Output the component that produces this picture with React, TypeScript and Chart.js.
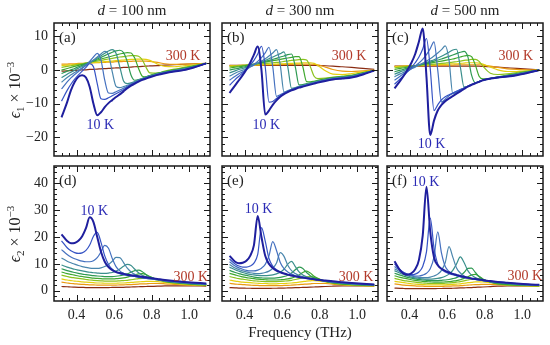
import React, { useEffect, useRef } from 'react';
import { Chart, registerables } from 'chart.js';

Chart.register(...registerables);

// ---------- data ----------
const FREQ = [
  0.32, 0.35, 0.37, 0.39, 0.41, 0.43, 0.45, 0.47, 0.49, 0.51,
  0.53, 0.55, 0.57, 0.59, 0.61, 0.63, 0.65, 0.67, 0.69, 0.71,
  0.73, 0.75, 0.77, 0.79, 0.83, 0.87, 0.92, 0.97, 1.03, 1.09,
];

const TEMPS = [10, 30, 50, 70, 90, 110, 140, 170, 200, 250, 300];
const COLORS = ['#1f1f9e', '#3553c4', '#4470bf', '#4a86ad', '#3a8f8c', '#2f9a52', '#3fa82e', '#8cc21e', '#e4cf10', '#eb9a12', '#8a2c12'];

const EPS1_100 = [
  [-14.0, -9.5, -6.0, -3.5, -2.0, -1.5, -2.2, -5.0, -10.0, -13.4, -12.5, -11.0, -9.8, -8.9, -8.0, -7.2, -6.3, -5.4, -4.6, -4.0, -3.4, -2.9, -2.5, -2.1, -1.4, -0.9, -0.4, 0.0, 0.9, 2.0],
  [-9.2, -6.0, -4.2, -2.7, -1.4, -0.3, 0.8, 1.9, 1.0, -4.0, -8.5, -8.7, -8.2, -7.6, -7.0, -6.4, -5.8, -5.1, -4.4, -3.8, -3.3, -2.8, -2.4, -2.0, -1.4, -0.8, -0.3, 0.1, 0.9, 2.0],
  [-5.6, -3.5, -2.3, -1.3, -0.4, 0.5, 1.5, 2.6, 3.9, 5.0, 3.0, -3.0, -6.8, -6.9, -6.4, -5.9, -5.4, -4.8, -4.2, -3.7, -3.2, -2.7, -2.3, -1.9, -1.3, -0.8, -0.3, 0.2, 1.0, 2.0],
  [-3.6, -2.2, -1.4, -0.7, 0.0, 0.7, 1.4, 2.2, 3.0, 3.9, 4.8, 5.6, 4.5, -0.5, -4.8, -5.2, -4.9, -4.5, -4.0, -3.5, -3.0, -2.6, -2.2, -1.8, -1.2, -0.7, -0.2, 0.3, 1.0, 2.0],
  [-2.2, -1.2, -0.6, 0.0, 0.6, 1.1, 1.7, 2.3, 2.9, 3.6, 4.3, 5.0, 5.7, 6.1, 5.0, 1.0, -3.2, -4.0, -3.8, -3.4, -2.9, -2.5, -2.1, -1.7, -1.1, -0.6, -0.1, 0.4, 1.1, 2.0],
  [-1.0, -0.3, 0.1, 0.5, 1.0, 1.4, 1.9, 2.3, 2.8, 3.3, 3.8, 4.3, 4.8, 5.3, 5.7, 5.9, 5.2, 2.5, -1.5, -3.0, -2.8, -2.4, -2.0, -1.6, -1.0, -0.5, 0.0, 0.5, 1.2, 2.0],
  [0.0, 0.5, 0.8, 1.1, 1.4, 1.7, 2.0, 2.4, 2.7, 3.0, 3.3, 3.6, 3.9, 4.2, 4.5, 4.8, 5.0, 5.2, 5.1, 3.5, 0.5, -1.8, -2.0, -1.6, -0.9, -0.4, 0.1, 0.6, 1.3, 2.0],
  [0.8, 1.1, 1.3, 1.5, 1.7, 1.9, 2.1, 2.3, 2.5, 2.7, 2.9, 3.1, 3.3, 3.5, 3.7, 3.9, 4.0, 4.2, 4.3, 4.3, 4.1, 3.0, 0.8, -0.8, -0.9, -0.3, 0.3, 0.8, 1.4, 2.0],
  [1.4, 1.5, 1.6, 1.7, 1.8, 1.9, 2.0, 2.1, 2.2, 2.3, 2.4, 2.5, 2.6, 2.7, 2.8, 2.9, 3.0, 3.1, 3.2, 3.2, 3.3, 3.3, 3.2, 2.9, 1.8, 1.1, 1.0, 1.3, 1.6, 2.0],
  [1.8, 1.8, 1.9, 1.9, 2.0, 2.0, 2.1, 2.1, 2.2, 2.2, 2.3, 2.3, 2.4, 2.4, 2.5, 2.5, 2.6, 2.6, 2.6, 2.7, 2.7, 2.7, 2.7, 2.6, 2.3, 1.9, 1.7, 1.8, 1.9, 2.0],
  [-0.3, -0.2, -0.15, -0.1, 0.0, 0.05, 0.1, 0.2, 0.25, 0.3, 0.4, 0.45, 0.5, 0.6, 0.65, 0.7, 0.8, 0.85, 0.9, 1.0, 1.05, 1.1, 1.2, 1.25, 1.35, 1.5, 1.6, 1.75, 1.9, 2.0],
];

const EPS1_300 = [
  [-6.8, -4.5, -3.0, -1.5, 0.2, 2.2, 4.6, 7.0, 0.0, -13.2, -12.0, -10.3, -9.0, -7.9, -7.1, -6.5, -6.0, -5.6, -5.2, -4.9, -4.6, -4.3, -4.0, -3.7, -3.2, -2.8, -2.5, -2.2, -1.3, -0.1],
  [-4.5, -2.8, -1.8, -0.8, 0.3, 1.5, 2.9, 4.8, 7.1, 1.0, -9.5, -9.3, -8.4, -7.6, -6.9, -6.4, -5.9, -5.5, -5.1, -4.8, -4.5, -4.2, -3.9, -3.6, -3.1, -2.7, -2.4, -2.1, -1.2, -0.1],
  [-3.0, -1.8, -1.1, -0.5, 0.2, 0.9, 1.7, 2.6, 3.7, 5.1, 6.8, 1.0, -7.8, -7.3, -6.7, -6.2, -5.8, -5.4, -5.0, -4.7, -4.4, -4.1, -3.8, -3.5, -3.0, -2.6, -2.3, -2.0, -1.1, -0.1],
  [-1.8, -0.9, -0.4, 0.0, 0.5, 1.0, 1.5, 2.1, 2.7, 3.4, 4.2, 5.1, 6.1, 1.5, -6.5, -6.1, -5.7, -5.3, -4.9, -4.6, -4.3, -4.0, -3.7, -3.4, -2.9, -2.5, -2.2, -1.9, -1.0, -0.1],
  [-0.8, -0.2, 0.2, 0.5, 0.9, 1.3, 1.7, 2.1, 2.5, 2.9, 3.4, 3.9, 4.4, 4.9, 5.4, 1.0, -5.4, -5.2, -4.8, -4.5, -4.2, -3.9, -3.6, -3.3, -2.8, -2.4, -2.1, -1.8, -1.0, -0.1],
  [0.0, 0.4, 0.6, 0.9, 1.1, 1.4, 1.7, 2.0, 2.3, 2.6, 2.9, 3.2, 3.5, 3.9, 4.2, 4.6, 4.8, 1.0, -4.4, -4.3, -4.0, -3.8, -3.5, -3.2, -2.7, -2.3, -2.0, -1.7, -0.9, -0.1],
  [0.6, 0.9, 1.0, 1.2, 1.4, 1.6, 1.8, 2.0, 2.2, 2.4, 2.6, 2.8, 3.0, 3.2, 3.4, 3.6, 3.8, 4.0, 4.0, 1.0, -3.4, -3.5, -3.3, -3.0, -2.6, -2.2, -1.9, -1.6, -0.8, -0.1],
  [1.0, 1.2, 1.3, 1.4, 1.5, 1.6, 1.7, 1.8, 1.9, 2.0, 2.1, 2.2, 2.3, 2.4, 2.6, 2.7, 2.9, 3.0, 3.1, 3.2, 3.0, 1.0, -1.8, -2.5, -2.4, -2.1, -1.8, -1.5, -0.7, -0.1],
  [1.2, 1.3, 1.3, 1.4, 1.4, 1.5, 1.5, 1.6, 1.6, 1.7, 1.7, 1.8, 1.8, 1.9, 1.9, 2.0, 2.0, 2.1, 2.1, 2.2, 2.2, 2.2, 2.0, 1.4, -0.2, -1.2, -1.3, -1.0, -0.5, 0.0],
  [1.3, 1.3, 1.4, 1.4, 1.4, 1.5, 1.5, 1.5, 1.5, 1.6, 1.6, 1.6, 1.6, 1.7, 1.7, 1.7, 1.7, 1.8, 1.8, 1.8, 1.8, 1.8, 1.7, 1.6, 0.9, 0.2, -0.3, -0.4, -0.2, 0.0],
  [1.4, 1.4, 1.4, 1.4, 1.4, 1.4, 1.4, 1.4, 1.4, 1.4, 1.4, 1.4, 1.4, 1.4, 1.4, 1.4, 1.4, 1.4, 1.4, 1.4, 1.4, 1.4, 1.4, 1.35, 1.3, 1.2, 1.0, 0.8, 0.5, 0.2],
];

const EPS1_500 = [
  [-5.4, -3.2, -1.6, 0.2, 2.2, 4.8, 8.5, 12.4, -2.0, -19.3, -15.0, -12.0, -10.3, -9.2, -8.4, -7.7, -7.0, -6.3, -5.6, -4.9, -4.4, -3.9, -3.5, -3.0, -2.5, -2.2, -1.9, -1.5, -0.8, 0.0],
  [-4.2, -2.6, -1.5, -0.4, 0.8, 2.2, 3.9, 6.3, 9.4, 0.5, -12.0, -10.3, -8.8, -7.9, -7.3, -6.8, -6.3, -5.8, -5.3, -4.8, -4.3, -3.8, -3.4, -3.0, -2.5, -2.2, -1.9, -1.5, -0.8, 0.0],
  [-3.0, -1.8, -1.0, -0.3, 0.4, 1.2, 2.1, 3.2, 4.6, 6.4, 8.4, 0.0, -9.5, -8.6, -7.6, -6.9, -6.3, -5.8, -5.3, -4.8, -4.3, -3.8, -3.4, -3.0, -2.5, -2.2, -1.8, -1.4, -0.7, 0.0],
  [-2.0, -1.1, -0.6, -0.1, 0.4, 0.9, 1.5, 2.1, 2.7, 3.4, 4.2, 5.1, 6.1, 7.2, 3.0, -7.0, -6.6, -5.9, -5.3, -4.8, -4.3, -3.8, -3.4, -3.0, -2.5, -2.1, -1.7, -1.3, -0.6, 0.0],
  [-1.2, -0.5, -0.1, 0.3, 0.7, 1.1, 1.5, 1.9, 2.3, 2.7, 3.1, 3.6, 4.1, 4.7, 5.3, 6.0, 6.2, 1.0, -5.0, -4.8, -4.3, -3.8, -3.4, -3.0, -2.5, -2.1, -1.7, -1.2, -0.6, 0.0],
  [-0.5, 0.0, 0.3, 0.6, 0.9, 1.2, 1.5, 1.8, 2.1, 2.4, 2.7, 3.0, 3.3, 3.7, 4.1, 4.5, 4.9, 5.3, 5.6, 4.0, -1.5, -3.8, -3.4, -3.0, -2.5, -2.1, -1.6, -1.1, -0.5, 0.0],
  [0.2, 0.5, 0.7, 0.9, 1.1, 1.3, 1.5, 1.7, 1.9, 2.1, 2.3, 2.5, 2.7, 2.9, 3.1, 3.3, 3.6, 3.9, 4.2, 4.4, 4.0, 1.5, -1.8, -2.6, -2.4, -2.0, -1.5, -1.0, -0.4, 0.0],
  [0.7, 0.9, 1.0, 1.1, 1.2, 1.3, 1.4, 1.5, 1.6, 1.7, 1.8, 1.9, 2.0, 2.1, 2.2, 2.4, 2.5, 2.7, 2.9, 3.0, 3.2, 3.2, 2.6, 1.2, -0.9, -1.3, -1.1, -0.7, -0.3, 0.0],
  [1.0, 1.1, 1.2, 1.2, 1.3, 1.3, 1.4, 1.4, 1.5, 1.5, 1.6, 1.6, 1.7, 1.7, 1.8, 1.9, 1.9, 2.0, 2.1, 2.2, 2.2, 2.2, 2.1, 1.8, 0.9, 0.1, -0.4, -0.4, -0.2, 0.0],
  [1.1, 1.1, 1.2, 1.2, 1.2, 1.3, 1.3, 1.3, 1.4, 1.4, 1.4, 1.4, 1.5, 1.5, 1.5, 1.5, 1.6, 1.6, 1.6, 1.6, 1.6, 1.6, 1.6, 1.5, 1.2, 0.8, 0.4, 0.2, 0.1, 0.0],
  [1.2, 1.2, 1.2, 1.2, 1.2, 1.2, 1.2, 1.2, 1.2, 1.2, 1.2, 1.2, 1.2, 1.2, 1.2, 1.2, 1.2, 1.2, 1.2, 1.2, 1.2, 1.2, 1.2, 1.1, 1.0, 0.9, 0.7, 0.5, 0.3, 0.1],
];

const EPS2_100 = [
  [21.0, 18.5, 17.7, 17.8, 18.6, 20.3, 23.3, 27.3, 25.5, 20.0, 14.5, 10.8, 8.8, 7.7, 7.0, 6.6, 6.3, 6.0, 5.8, 5.6, 5.4, 5.2, 5.0, 4.8, 4.4, 4.0, 3.6, 3.3, 3.0, 2.7],
  [18.6, 16.0, 14.9, 14.2, 13.9, 14.1, 15.0, 17.0, 20.3, 21.7, 18.0, 13.0, 9.8, 8.0, 7.0, 6.4, 6.0, 5.7, 5.5, 5.3, 5.1, 4.9, 4.7, 4.6, 4.3, 3.9, 3.5, 3.2, 2.9, 2.6],
  [15.3, 13.5, 12.6, 11.9, 11.4, 11.0, 10.8, 10.8, 11.2, 12.3, 14.5, 16.9, 15.8, 12.0, 9.0, 7.4, 6.5, 6.0, 5.6, 5.3, 5.0, 4.8, 4.6, 4.4, 4.1, 3.8, 3.4, 3.1, 2.8, 2.5],
  [12.2, 11.0, 10.4, 9.9, 9.4, 9.0, 8.7, 8.4, 8.3, 8.3, 8.5, 9.0, 9.8, 11.0, 12.4, 12.3, 10.5, 8.4, 7.0, 6.1, 5.5, 5.1, 4.8, 4.5, 4.1, 3.7, 3.3, 3.0, 2.7, 2.5],
  [9.6, 8.8, 8.4, 8.0, 7.7, 7.4, 7.1, 6.9, 6.7, 6.6, 6.5, 6.5, 6.6, 6.8, 7.3, 8.1, 9.1, 9.8, 9.4, 8.0, 6.7, 5.8, 5.2, 4.8, 4.2, 3.7, 3.3, 2.9, 2.6, 2.4],
  [8.2, 7.5, 7.1, 6.8, 6.5, 6.2, 6.0, 5.8, 5.6, 5.5, 5.4, 5.3, 5.3, 5.3, 5.4, 5.6, 5.9, 6.3, 6.9, 7.5, 7.7, 7.1, 6.0, 5.2, 4.2, 3.6, 3.1, 2.8, 2.5, 2.3],
  [7.0, 6.4, 6.1, 5.8, 5.5, 5.3, 5.1, 4.9, 4.7, 4.6, 4.5, 4.4, 4.4, 4.4, 4.5, 4.6, 4.8, 5.1, 5.5, 5.9, 6.3, 6.4, 6.0, 5.3, 4.2, 3.5, 3.0, 2.7, 2.4, 2.2],
  [5.8, 5.3, 5.0, 4.8, 4.6, 4.4, 4.2, 4.0, 3.9, 3.8, 3.7, 3.6, 3.6, 3.6, 3.6, 3.7, 3.8, 3.9, 4.1, 4.3, 4.5, 4.6, 4.6, 4.5, 4.0, 3.4, 2.9, 2.6, 2.3, 2.1],
  [4.4, 4.0, 3.8, 3.6, 3.5, 3.3, 3.2, 3.1, 3.0, 2.9, 2.9, 2.8, 2.8, 2.8, 2.8, 2.9, 2.9, 3.0, 3.1, 3.2, 3.3, 3.4, 3.5, 3.5, 3.4, 3.1, 2.7, 2.4, 2.2, 2.0],
  [3.2, 2.9, 2.7, 2.6, 2.5, 2.4, 2.3, 2.2, 2.2, 2.1, 2.1, 2.1, 2.1, 2.1, 2.1, 2.2, 2.2, 2.3, 2.3, 2.4, 2.5, 2.6, 2.6, 2.7, 2.7, 2.6, 2.4, 2.2, 2.0, 1.9],
  [1.6, 1.5, 1.4, 1.35, 1.3, 1.25, 1.2, 1.2, 1.2, 1.2, 1.2, 1.2, 1.2, 1.25, 1.25, 1.3, 1.3, 1.35, 1.4, 1.45, 1.5, 1.55, 1.6, 1.65, 1.7, 1.8, 1.85, 1.85, 1.8, 1.75],
];

const EPS2_300 = [
  [13.0, 10.8, 10.2, 10.4, 11.2, 13.0, 17.0, 27.8, 20.0, 13.0, 10.0, 8.5, 7.5, 6.9, 6.4, 6.0, 5.7, 5.4, 5.1, 4.9, 4.7, 4.5, 4.3, 4.1, 3.8, 3.5, 3.2, 2.9, 2.6, 2.3],
  [11.8, 10.0, 9.2, 8.8, 8.8, 9.2, 10.3, 13.5, 23.5, 18.5, 12.0, 9.2, 7.8, 7.0, 6.4, 6.0, 5.6, 5.3, 5.0, 4.8, 4.6, 4.4, 4.2, 4.0, 3.7, 3.4, 3.1, 2.8, 2.5, 2.3],
  [10.8, 9.2, 8.5, 8.0, 7.6, 7.4, 7.4, 7.7, 8.4, 9.8, 13.0, 18.3, 15.0, 10.5, 8.2, 7.0, 6.2, 5.6, 5.2, 4.9, 4.6, 4.4, 4.2, 4.0, 3.6, 3.3, 3.0, 2.7, 2.5, 2.2],
  [9.8, 8.5, 7.9, 7.4, 7.0, 6.7, 6.5, 6.4, 6.5, 6.8, 7.3, 8.3, 10.3, 14.2, 12.8, 9.5, 7.5, 6.4, 5.7, 5.2, 4.8, 4.5, 4.2, 4.0, 3.6, 3.2, 2.9, 2.6, 2.4, 2.2],
  [8.8, 7.8, 7.3, 6.8, 6.4, 6.1, 5.9, 5.7, 5.6, 5.6, 5.7, 5.9, 6.3, 6.9, 8.0, 9.9, 10.9, 9.0, 7.0, 5.9, 5.2, 4.7, 4.4, 4.1, 3.6, 3.2, 2.8, 2.5, 2.3, 2.1],
  [7.6, 6.8, 6.4, 6.0, 5.7, 5.4, 5.1, 4.9, 4.8, 4.7, 4.7, 4.7, 4.8, 5.0, 5.3, 5.8, 6.6, 7.8, 8.8, 8.3, 6.8, 5.6, 4.8, 4.3, 3.6, 3.1, 2.7, 2.4, 2.2, 2.0],
  [6.5, 5.9, 5.5, 5.2, 4.9, 4.7, 4.5, 4.3, 4.2, 4.1, 4.0, 4.0, 4.0, 4.1, 4.2, 4.4, 4.7, 5.2, 5.9, 6.8, 7.3, 6.6, 5.4, 4.6, 3.5, 2.9, 2.5, 2.3, 2.1, 2.0],
  [5.3, 4.8, 4.5, 4.3, 4.1, 3.9, 3.7, 3.6, 3.5, 3.4, 3.4, 3.4, 3.4, 3.5, 3.6, 3.7, 3.9, 4.2, 4.5, 4.9, 5.2, 5.3, 5.0, 4.5, 3.5, 2.8, 2.4, 2.2, 2.0, 1.9],
  [4.0, 3.6, 3.4, 3.2, 3.1, 3.0, 2.9, 2.8, 2.7, 2.7, 2.6, 2.6, 2.6, 2.7, 2.7, 2.8, 2.9, 3.0, 3.2, 3.4, 3.6, 3.7, 3.8, 3.7, 3.3, 2.8, 2.4, 2.1, 1.9, 1.8],
  [2.8, 2.5, 2.4, 2.3, 2.2, 2.1, 2.0, 2.0, 1.9, 1.9, 1.9, 1.9, 1.9, 1.9, 2.0, 2.0, 2.1, 2.2, 2.3, 2.4, 2.5, 2.6, 2.7, 2.7, 2.7, 2.5, 2.2, 2.0, 1.9, 1.8],
  [1.2, 1.1, 1.0, 1.0, 0.95, 0.95, 0.9, 0.9, 0.9, 0.9, 0.9, 0.95, 0.95, 1.0, 1.0, 1.05, 1.1, 1.15, 1.2, 1.25, 1.3, 1.35, 1.4, 1.45, 1.6, 1.7, 1.8, 1.85, 1.8, 1.75],
];

const EPS2_500 = [
  [11.0, 7.6, 6.3, 6.0, 6.5, 8.0, 11.5, 20.5, 38.7, 22.0, 12.5, 9.5, 8.2, 7.4, 6.8, 6.3, 5.9, 5.5, 5.2, 4.9, 4.6, 4.4, 4.2, 4.0, 3.6, 3.3, 3.0, 2.7, 2.4, 2.2],
  [10.0, 7.8, 6.8, 6.2, 6.0, 6.2, 7.0, 9.0, 14.5, 27.0, 16.0, 10.0, 8.0, 7.0, 6.4, 6.0, 5.6, 5.3, 5.0, 4.8, 4.5, 4.3, 4.1, 3.9, 3.6, 3.3, 3.0, 2.7, 2.4, 2.2],
  [9.0, 7.5, 6.7, 6.1, 5.7, 5.5, 5.5, 5.8, 6.5, 8.2, 12.5, 21.9, 14.0, 9.0, 7.2, 6.2, 5.6, 5.2, 4.9, 4.6, 4.4, 4.2, 4.0, 3.8, 3.5, 3.2, 2.9, 2.6, 2.3, 2.1],
  [8.2, 7.0, 6.4, 5.9, 5.5, 5.2, 5.0, 4.9, 4.9, 5.1, 5.5, 6.2, 7.6, 10.5, 16.4, 12.5, 8.5, 6.6, 5.5, 4.9, 4.5, 4.2, 4.0, 3.8, 3.4, 3.1, 2.8, 2.5, 2.2, 2.0],
  [7.5, 6.5, 6.0, 5.5, 5.1, 4.8, 4.6, 4.4, 4.3, 4.3, 4.4, 4.6, 4.9, 5.4, 6.2, 7.6, 10.0, 12.6, 10.5, 7.5, 5.8, 4.9, 4.3, 3.9, 3.4, 3.0, 2.7, 2.4, 2.2, 2.0],
  [6.5, 5.8, 5.4, 5.0, 4.7, 4.4, 4.2, 4.0, 3.9, 3.8, 3.8, 3.8, 3.9, 4.0, 4.2, 4.5, 4.9, 5.6, 6.8, 8.3, 8.4, 6.8, 5.2, 4.3, 3.3, 2.8, 2.5, 2.3, 2.1, 2.0],
  [5.6, 5.0, 4.7, 4.4, 4.1, 3.9, 3.7, 3.5, 3.4, 3.3, 3.2, 3.2, 3.2, 3.3, 3.4, 3.6, 3.8, 4.1, 4.6, 5.2, 5.9, 6.1, 5.4, 4.4, 3.2, 2.6, 2.3, 2.1, 2.0, 1.9],
  [4.6, 4.1, 3.8, 3.6, 3.4, 3.2, 3.0, 2.9, 2.8, 2.7, 2.7, 2.7, 2.7, 2.8, 2.9, 3.0, 3.2, 3.4, 3.7, 4.0, 4.3, 4.5, 4.5, 4.2, 3.3, 2.6, 2.2, 2.0, 1.9, 1.8],
  [3.5, 3.2, 3.0, 2.8, 2.6, 2.5, 2.4, 2.3, 2.2, 2.2, 2.2, 2.2, 2.2, 2.2, 2.3, 2.4, 2.5, 2.6, 2.8, 3.0, 3.1, 3.3, 3.3, 3.3, 3.0, 2.6, 2.2, 2.0, 1.8, 1.7],
  [2.6, 2.3, 2.1, 2.0, 1.9, 1.8, 1.7, 1.7, 1.6, 1.6, 1.6, 1.6, 1.6, 1.7, 1.7, 1.8, 1.8, 1.9, 2.0, 2.1, 2.2, 2.3, 2.3, 2.4, 2.4, 2.3, 2.1, 1.9, 1.8, 1.7],
  [1.0, 0.9, 0.85, 0.8, 0.8, 0.8, 0.8, 0.8, 0.8, 0.8, 0.8, 0.85, 0.85, 0.9, 0.9, 0.95, 1.0, 1.05, 1.1, 1.15, 1.2, 1.3, 1.35, 1.4, 1.55, 1.7, 1.8, 1.85, 1.8, 1.7],
];

const X_TICKS = [0.4, 0.6, 0.8, 1.0];
const Y1_TICKS = [-20, -10, 0, 10];
const Y2_TICKS = [0, 10, 20, 30, 40];
const THICKNESS = ['100', '300', '500'];
const LETTERS = ['(a)', '(b)', '(c)', '(d)', '(e)', '(f)'];
// annotation anchors in data units [freq, value]
const LOW_LABEL_AT = [[0.527, -16.3], [0.516, -16.5], [0.517, -22.0], [0.495, 29.6], [0.474, 30.4], [0.485, 40.4]];
const HIGH_LABEL_AT = [[0.966, 4.2], [0.956, 4.2], [0.965, 4.2], [1.008, 5.1], [0.993, 5.1], [1.013, 5.4]];

// ---------- layout ----------
const W = 550;
const H = 345;
const COLS = [[54, 210], [222, 378], [387, 543]];
const ROWS = [[23, 156], [166, 301]];
const XLIM = [0.28, 1.11];
const Y1LIM = [-25.5, 14];
const Y2LIM = [-3.8, 46.4];
const YAXIS_W = 44;
const XAXIS_H = 24;
const FONT = '"Liberation Serif", "DejaVu Serif", serif';

const PANELS = [
  { series: EPS1_100, row: 0, col: 0 },
  { series: EPS1_300, row: 0, col: 1 },
  { series: EPS1_500, row: 0, col: 2 },
  { series: EPS2_100, row: 1, col: 0 },
  { series: EPS2_300, row: 1, col: 1 },
  { series: EPS2_500, row: 1, col: 2 },
];

function steps(a: number, b: number, s: number) {
  const out: number[] = [];
  for (let v = a; v <= b + 1e-9; v += s) out.push(Math.round(v * 1000) / 1000);
  return out;
}

const frameTicks = {
  id: 'frameTicks',
  afterDatasetsDraw(chart: any, _args: any, o: any) {
    const { ctx, chartArea: a } = chart;
    const xs = chart.scales.x;
    const ys = chart.scales.y;
    ctx.save();
    ctx.strokeStyle = '#1a1a1a';
    ctx.lineWidth = 1;
    const seg = (x1: number, y1: number, x2: number, y2: number) => {
      ctx.beginPath();
      ctx.moveTo(x1, y1);
      ctx.lineTo(x2, y2);
      ctx.stroke();
    };
    const xt = (vals: number[], len: number) => {
      for (const v of vals) {
        const p = Math.round(xs.getPixelForValue(v)) + 0.5;
        if (p < a.left + 1 || p > a.right - 1) continue;
        seg(p, a.bottom, p, a.bottom - len);
        seg(p, a.top, p, a.top + len);
      }
    };
    const yt = (vals: number[], len: number) => {
      for (const v of vals) {
        const p = Math.round(ys.getPixelForValue(v)) + 0.5;
        if (p < a.top + 1 || p > a.bottom - 1) continue;
        seg(a.left, p, a.left + len, p);
        seg(a.right, p, a.right - len, p);
      }
    };
    xt(o.xMinor, 3);
    xt(o.xMajor, 6);
    yt(o.yMinor, 3);
    yt(o.yMajor, 6);
    ctx.lineWidth = 1.5;
    ctx.strokeRect(a.left, a.top, a.right - a.left, a.bottom - a.top);

    ctx.textBaseline = 'middle';
    ctx.textAlign = 'left';
    ctx.fillStyle = '#222';
    ctx.font = `15px ${FONT}`;
    ctx.fillText(o.letter, a.left + 5, a.top + 15);

    ctx.textAlign = 'center';
    ctx.font = `14px ${FONT}`;
    ctx.fillStyle = '#2b2bb5';
    ctx.fillText('10 K', xs.getPixelForValue(o.low[0]), ys.getPixelForValue(o.low[1]));
    ctx.fillStyle = '#b23a2a';
    ctx.fillText('300 K', xs.getPixelForValue(o.high[0]), ys.getPixelForValue(o.high[1]));
    ctx.restore();
  },
};

function Panel({ idx }: { idx: number }) {
  const ref = useRef<HTMLCanvasElement>(null);
  useEffect(() => {
    const p = PANELS[idx];
    const col = COLS[p.col];
    const row = ROWS[p.row];
    const top = p.row === 0;
    const ylim = top ? Y1LIM : Y2LIM;
    const yTicks = top ? Y1_TICKS : Y2_TICKS;
    const showX = p.row === 1;
    const showY = p.col === 0;
    const yw = showY ? YAXIS_W : 0;
    const xh = showX ? XAXIS_H : 0;
    const chart = new Chart(ref.current as HTMLCanvasElement, {
      type: 'line',
      data: {
        datasets: p.series.map((ys: number[], k: number) => ({
          label: `${TEMPS[k]} K`,
          data: FREQ.map((x, i) => ({ x, y: ys[i] })),
          borderColor: COLORS[k],
          borderWidth: k === 0 ? 2 : 1.2,
          pointRadius: 0,
          fill: false,
          cubicInterpolationMode: 'monotone',
        })),
      },
      options: {
        responsive: false,
        animation: false,
        events: [],
        layout: { padding: { left: col[0] - yw, right: W - col[1], top: row[0], bottom: H - row[1] - xh } },
        plugins: {
          legend: { display: false },
          tooltip: { enabled: false },
          frameTicks: {
            letter: LETTERS[idx],
            low: LOW_LABEL_AT[idx],
            high: HIGH_LABEL_AT[idx],
            xMajor: X_TICKS,
            xMinor: steps(0.28, 1.12, 0.04),
            yMajor: yTicks,
            yMinor: top ? steps(-24, 14, 2) : steps(-2, 46, 2),
          },
        } as any,
        scales: {
          x: {
            type: 'linear',
            min: XLIM[0],
            max: XLIM[1],
            afterFit: (s: any) => { s.height = xh; },
            afterBuildTicks: (s: any) => { s.ticks = X_TICKS.map((v) => ({ value: v })); },
            grid: { display: false, drawTicks: false },
            border: { display: false },
            ticks: {
              display: showX,
              padding: 6,
              color: '#222',
              font: { family: FONT, size: 14 },
              maxRotation: 0,
              callback: (v: any) => Number(v).toFixed(1),
            },
          },
          y: {
            type: 'linear',
            min: ylim[0],
            max: ylim[1],
            afterFit: (s: any) => { s.width = yw; },
            afterBuildTicks: (s: any) => { s.ticks = yTicks.map((v) => ({ value: v })); },
            grid: { display: false, drawTicks: false },
            border: { display: false },
            ticks: {
              display: showY,
              padding: 6,
              color: '#222',
              font: { family: FONT, size: 14 },
              callback: (v: any) => (Number(v) < 0 ? '\u2212' + Math.abs(Number(v)) : String(v)),
            },
          },
        },
      },
      plugins: [frameTicks],
    } as any);
    return () => chart.destroy();
  }, [idx]);
  return (
    <canvas
      ref={ref}
      width={W}
      height={H}
      style={{ position: 'absolute', left: 0, top: 0, width: W, height: H }}
    />
  );
}

export default function App() {
  const yTitle = (sub: string, cy: number) => (
    <div
      style={{
        position: 'absolute',
        left: 15 - 70,
        top: cy - 10,
        width: 140,
        height: 20,
        lineHeight: '20px',
        textAlign: 'center',
        transform: 'rotate(-90deg)',
        fontSize: 16,
        whiteSpace: 'nowrap',
      }}
    >
      <i>ϵ</i>
      <sub style={{ fontSize: 11, lineHeight: 0 }}>{sub}</sub> × 10
      <sup style={{ fontSize: 11, lineHeight: 0 }}>−3</sup>
    </div>
  );
  return (
    <div
      style={{
        position: 'absolute',
        left: 0,
        top: 0,
        width: W,
        height: H,
        background: '#fff',
        fontFamily: FONT,
        color: '#222',
        overflow: 'hidden',
      }}
    >
      {PANELS.map((_, i) => (
        <Panel key={i} idx={i} />
      ))}
      {THICKNESS.map((t, i) => (
        <div
          key={t}
          style={{
            position: 'absolute',
            left: (COLS[i][0] + COLS[i][1]) / 2 - 60,
            top: 1,
            width: 120,
            height: 18,
            lineHeight: '18px',
            textAlign: 'center',
            fontSize: 15,
            whiteSpace: 'nowrap',
          }}
        >
          <i>d</i> = {t} nm
        </div>
      ))}
      {yTitle('1', (ROWS[0][0] + ROWS[0][1]) / 2)}
      {yTitle('2', (ROWS[1][0] + ROWS[1][1]) / 2)}
      <div
        style={{
          position: 'absolute',
          left: (COLS[1][0] + COLS[1][1]) / 2 - 80,
          top: 322,
          width: 160,
          height: 20,
          lineHeight: '20px',
          textAlign: 'center',
          fontSize: 15,
          whiteSpace: 'nowrap',
        }}
      >
        Frequency (THz)
      </div>
    </div>
  );
}
